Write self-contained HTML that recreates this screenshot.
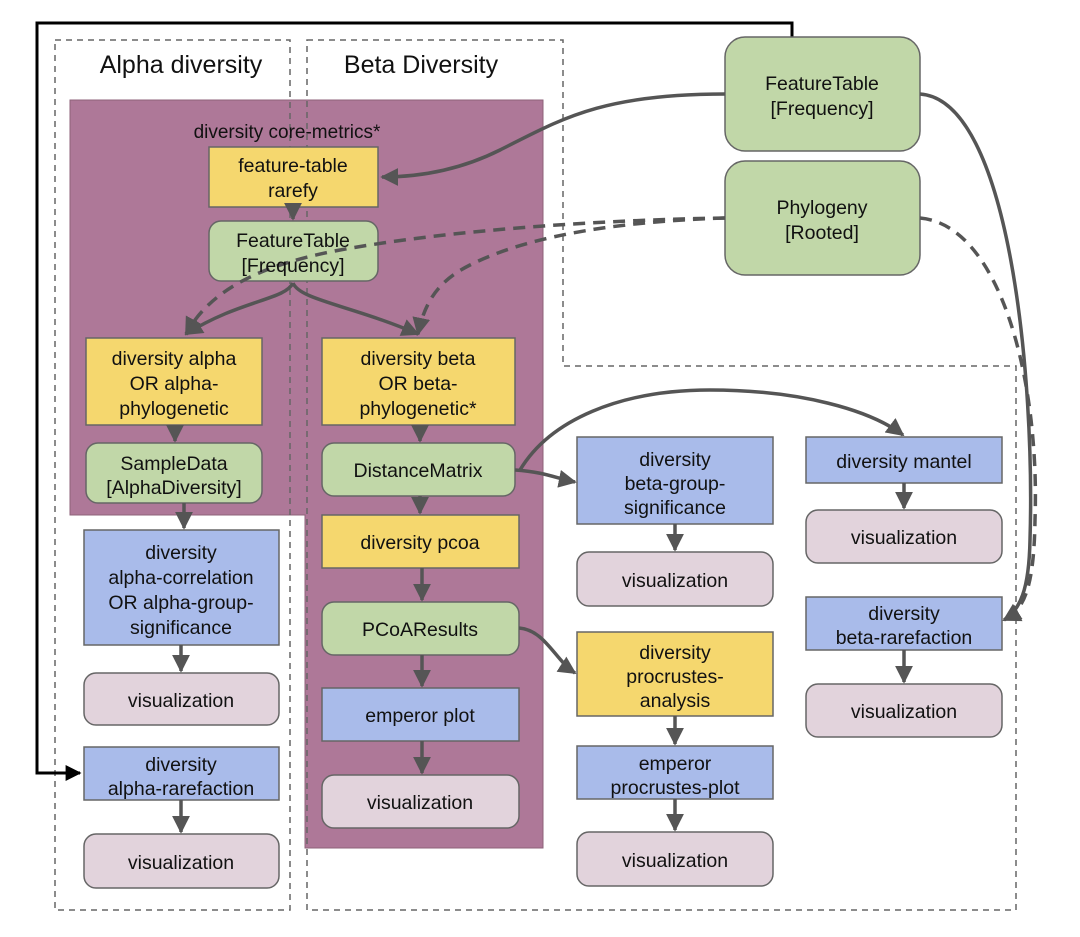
<!DOCTYPE html>
<html><head><meta charset="utf-8"><style>
html,body{margin:0;padding:0;background:#fff;}
svg{display:block;font-family:"Liberation Sans",Arial,sans-serif;}
text{font-size:19.5px;fill:#111;text-anchor:middle;}
</style></head><body>
<svg width="1080" height="937" viewBox="0 0 1080 937" xmlns="http://www.w3.org/2000/svg">
<defs>
<marker id="ah" viewBox="0 0 10 10" refX="9" refY="5" markerWidth="18" markerHeight="18" markerUnits="userSpaceOnUse" orient="auto"><path d="M0,0 L10,5 L0,10 z" fill="#555"/></marker>
<marker id="bh" viewBox="0 0 10 10" refX="9" refY="5" markerWidth="16" markerHeight="16" markerUnits="userSpaceOnUse" orient="auto"><path d="M0,0 L10,5 L0,10 z" fill="#000"/></marker>
</defs>
<path d="M70,100 H543 V848 H305 V515 H70 Z" fill="#ae7898" stroke="#8d6279" stroke-width="1"/>
<rect x="55" y="40" width="235" height="870" fill="none" stroke="#666" stroke-width="1.5" stroke-dasharray="6,5"/>
<path d="M307,40 H563 V366 H1016 V910 H307 Z" fill="none" stroke="#666" stroke-width="1.5" stroke-dasharray="6,5"/>
<text x="181" y="73" style="font-size:25px">Alpha diversity</text>
<text x="421" y="73" style="font-size:25px">Beta Diversity</text>
<text x="287" y="138" style="font-size:19px">diversity core-metrics*</text>
<path d="M792,37 V23 H37 V773 H80" fill="none" stroke="#000" stroke-width="3" marker-end="url(#bh)"/>
<g stroke="#666" stroke-width="1.5">
<rect x="209" y="147" width="169" height="60" fill="#f5d76e"/>
<rect x="209" y="221" width="169" height="60" rx="12" fill="#c1d7a8"/>
<rect x="86" y="338" width="176" height="87" fill="#f5d76e"/>
<rect x="86" y="443" width="176" height="60" rx="12" fill="#c1d7a8"/>
<rect x="322" y="338" width="193" height="87" fill="#f5d76e"/>
<rect x="322" y="443" width="193" height="53" rx="12" fill="#c1d7a8"/>
<rect x="322" y="515" width="197" height="53" fill="#f5d76e"/>
<rect x="322" y="602" width="197" height="53" rx="12" fill="#c1d7a8"/>
<rect x="322" y="688" width="197" height="53" fill="#a9bbea"/>
<rect x="322" y="775" width="197" height="53" rx="12" fill="#e2d3dc"/>
<rect x="84" y="530" width="195" height="115" fill="#a9bbea"/>
<rect x="84" y="673" width="195" height="52" rx="12" fill="#e2d3dc"/>
<rect x="84" y="747" width="195" height="53" fill="#a9bbea"/>
<rect x="84" y="834" width="195" height="54" rx="12" fill="#e2d3dc"/>
<rect x="725" y="37" width="195" height="114" rx="20" fill="#c1d7a8"/>
<rect x="725" y="161" width="195" height="114" rx="20" fill="#c1d7a8"/>
<rect x="577" y="437" width="196" height="87" fill="#a9bbea"/>
<rect x="577" y="552" width="196" height="54" rx="12" fill="#e2d3dc"/>
<rect x="577" y="632" width="196" height="84" fill="#f5d76e"/>
<rect x="577" y="746" width="196" height="53" fill="#a9bbea"/>
<rect x="577" y="832" width="196" height="54" rx="12" fill="#e2d3dc"/>
<rect x="806" y="437" width="196" height="46" fill="#a9bbea"/>
<rect x="806" y="510" width="196" height="53" rx="12" fill="#e2d3dc"/>
<rect x="806" y="597" width="196" height="53" fill="#a9bbea"/>
<rect x="806" y="684" width="196" height="53" rx="12" fill="#e2d3dc"/>
</g>
<g fill="none" stroke="#555" stroke-width="3.5">
<path d="M725,94 C600,94 560,120 500,150 C460,170 420,177 382,177" marker-end="url(#ah)"/>
<path d="M920,94 C1010,100 1035,380 1030,540 C1029,590 1020,610 1004,620" marker-end="url(#ah)"/>
<path d="M920,218 C1000,225 1040,380 1035,520 C1034,585 1025,610 1004,620" stroke-dasharray="12,8" marker-end="url(#ah)"/>
<path d="M725,218 C600,220 450,230 340,250 C260,265 210,290 186,334" stroke-dasharray="12,8" marker-end="url(#ah)"/>
<path d="M725,218 C600,222 520,240 470,265 C440,280 425,300 418,334" stroke-dasharray="12,8" marker-end="url(#ah)"/>
<path d="M293,283 C285,300 240,300 186,334" marker-end="url(#ah)"/>
<path d="M293,283 C300,300 350,305 418,334" marker-end="url(#ah)"/>
<path d="M293,207 V219" marker-end="url(#ah)"/>
<path d="M175,425 V441" marker-end="url(#ah)"/>
<path d="M184,503 V528" marker-end="url(#ah)"/>
<path d="M181,645 V671" marker-end="url(#ah)"/>
<path d="M181,800 V832" marker-end="url(#ah)"/>
<path d="M420,425 V441" marker-end="url(#ah)"/>
<path d="M420,496 V513" marker-end="url(#ah)"/>
<path d="M422,568 V600" marker-end="url(#ah)"/>
<path d="M422,655 V686" marker-end="url(#ah)"/>
<path d="M422,741 V773" marker-end="url(#ah)"/>
<path d="M515,470 C545,472 555,478 575,482" marker-end="url(#ah)"/>
<path d="M520,470 C550,420 620,390 710,390 C800,390 870,410 903,435" marker-end="url(#ah)"/>
<path d="M519,628 C545,630 555,660 575,673" marker-end="url(#ah)"/>
<path d="M675,524 V550" marker-end="url(#ah)"/>
<path d="M675,716 V744" marker-end="url(#ah)"/>
<path d="M675,799 V830" marker-end="url(#ah)"/>
<path d="M904,483 V508" marker-end="url(#ah)"/>
<path d="M904,650 V682" marker-end="url(#ah)"/>
</g>
<text x="293" y="172">feature-table</text><text x="293" y="197">rarefy</text>
<text x="293" y="247">FeatureTable</text><text x="293" y="272">[Frequency]</text>
<text x="174" y="365">diversity alpha</text><text x="174" y="390">OR alpha-</text><text x="174" y="415">phylogenetic</text>
<text x="174" y="470">SampleData</text><text x="174" y="494">[AlphaDiversity]</text>
<text x="418" y="365">diversity beta</text><text x="418" y="390">OR beta-</text><text x="418" y="415">phylogenetic*</text>
<text x="418" y="477">DistanceMatrix</text>
<text x="420" y="549">diversity pcoa</text>
<text x="420" y="636">PCoAResults</text>
<text x="420" y="722">emperor plot</text>
<text x="420" y="809">visualization</text>
<text x="181" y="559">diversity</text><text x="181" y="584">alpha-correlation</text><text x="181" y="609">OR alpha-group-</text><text x="181" y="634">significance</text>
<text x="181" y="707">visualization</text>
<text x="181" y="771">diversity</text><text x="181" y="795">alpha-rarefaction</text>
<text x="181" y="869">visualization</text>
<text x="822" y="90">FeatureTable</text><text x="822" y="115">[Frequency]</text>
<text x="822" y="214">Phylogeny</text><text x="822" y="239">[Rooted]</text>
<text x="675" y="466">diversity</text><text x="675" y="490">beta-group-</text><text x="675" y="514">significance</text>
<text x="675" y="587">visualization</text>
<text x="675" y="659">diversity</text><text x="675" y="683">procrustes-</text><text x="675" y="707">analysis</text>
<text x="675" y="770">emperor</text><text x="675" y="794">procrustes-plot</text>
<text x="675" y="867">visualization</text>
<text x="904" y="468">diversity mantel</text>
<text x="904" y="544">visualization</text>
<text x="904" y="620">diversity</text><text x="904" y="644">beta-rarefaction</text>
<text x="904" y="718">visualization</text>
</svg>
</body></html>
